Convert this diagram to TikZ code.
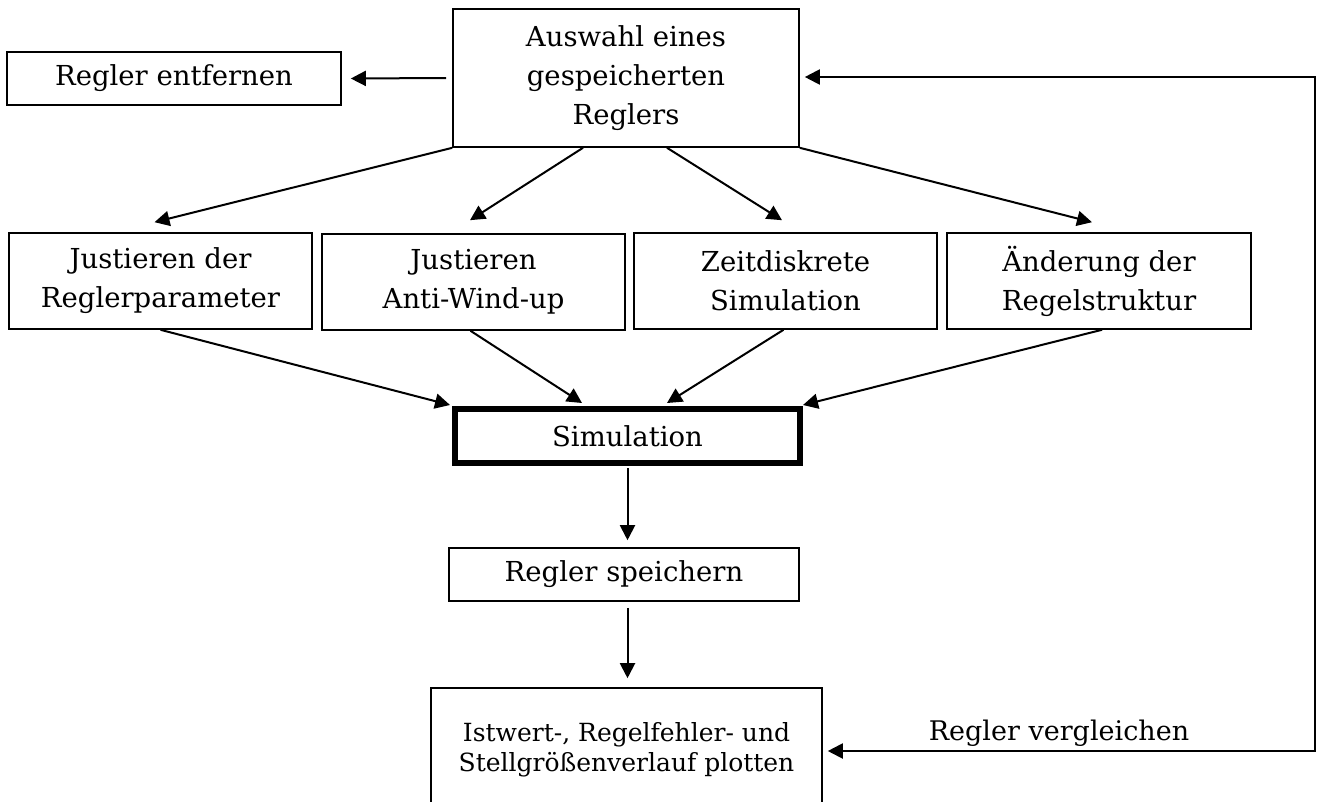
\documentclass[tikz,border=0pt]{standalone}
\usepackage{fontspec}
\setmainfont{DejaVu Serif}
\usetikzlibrary{arrows.meta,calc}
\begin{document}
\begin{tikzpicture}[x=1pt,y=-1pt,
  box/.style={draw,line width=1.6pt,rectangle,inner sep=0pt,align=center,
    font=\fontsize{27.5}{39}\selectfont},
  tip/.tip={Triangle[length=15pt,width=15pt]},
  conn/.style={line width=2pt,-tip},
  lbl/.style={font=\fontsize{27}{39}\selectfont}]
\useasboundingbox (0,0) rectangle (1322,801);
\clip (0,0) rectangle (1322,801);
% nodes
\node[box,minimum width=346,minimum height=138] (top) at (626,78) {Auswahl eines\\gespeicherten\\Reglers};
\node[box,minimum width=334,minimum height=53] (rem) at (174,78.5) {Regler entfernen};
\node[box,minimum width=303,minimum height=96] (j1) at (160.5,281) {Justieren der\\Reglerparameter};
\node[box,minimum width=303,minimum height=96] (j2) at (473.5,282) {Justieren\\Anti-Wind-up};
\node[box,minimum width=303,minimum height=96] (zd) at (785.5,281) {Zeitdiskrete\\Simulation};
\node[box,minimum width=304,minimum height=96] (ae) at (1099,281) {Änderung der\\Regelstruktur};
\node[box,line width=6pt,minimum width=345,minimum height=54] (sim) at (627.5,436) {Simulation};
\node[box,minimum width=350,minimum height=53] (save) at (624,574.5) {Regler speichern};
\node[box,minimum width=391,minimum height=124,font=\fontsize{25}{30}\selectfont] (plot) at (626.5,750) {Istwert-, Regelfehler- und\\Stellgrößenverlauf plotten};
\node[lbl,anchor=base] (cmp) at (1059,740) {Regler vergleichen};
\coordinate (fb) at (1315,751);
% connectors
\draw[conn] ($(top.west)+(-6,0)$) -- ($(rem.east)+(9,0)$);
\draw[conn] (top.south west) -- ($(j1.north)+(-6,-10)$);
\draw[conn] ($(top.south)+(-43,0)$) -- ($(j2.north)+(-3.5,-13)$);
\draw[conn] ($(top.south)+(41,0)$) -- ($(zd.north)+(-3.5,-12)$);
\draw[conn] (top.south east) -- ($(ae.north)+(-7,-10)$);
\draw[conn] (j1.south) -- ($(sim.north west)+(-2,-1)$);
\draw[conn] ($(j2.south)+(-3,0)$) -- ($(sim.north)+(-45.5,-3)$);
\draw[conn] ($(zd.south)+(-2,0)$) -- ($(sim.north)+(39.5,-3)$);
\draw[conn] ($(ae.south)+(3,0)$) -- ($(sim.north east)+(0,-1)$);
\draw[conn] ($(sim.south)+(0,2)$) -- ($(sim.south |- save.north)+(0,-7)$);
\draw[conn] ($(sim.south |- save.south)+(0,6)$) -- ($(sim.south |- plot.north)+(0,-9)$);
\draw[line width=2pt,tip-tip] ($(top.east)+(5,-1)$) -| (fb) -- ($(plot.east |- fb)+(5,0)$);
\end{tikzpicture}
\end{document}
